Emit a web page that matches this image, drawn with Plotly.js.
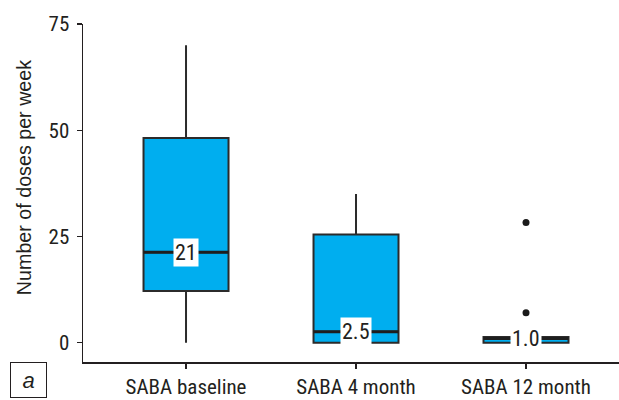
<!DOCTYPE html>
<html>
<head>
<meta charset="utf-8">
<script src="https://cdn.plot.ly/plotly-3.0.1.min.js"></script>
<style>html,body{margin:0;padding:0;background:#fff;}#chart{width:619px;height:400px;}</style>
</head>
<body>
<div id="chart"></div>
<script>
// Data
const categories = ['SABA baseline', 'SABA 4 month', 'SABA 12 month'];
const lowerFence = [0, 0, 0];
const q1Values = [12.2, 0, 0];
const medianValues = [21.3, 2.6, 1.0];
const q3Values = [48.2, 25.5, 1.4];
const upperFence = [70, 35, 1.4];
const medianLabels = ['21', '2.5', '1.0'];
const outlierCategory = ['SABA 12 month', 'SABA 12 month'];
const outlierValues = [28.3, 7.1];
const yTicks = [0, 25, 50, 75];

const tickFont = {family: "'Roboto Condensed', Roboto, sans-serif", size: 21, color: '#231f20'};

const boxTrace = {
  type: 'box',
  x: categories,
  q1: q1Values,
  median: medianValues,
  q3: q3Values,
  lowerfence: lowerFence,
  upperfence: upperFence,
  fillcolor: '#00aeef',
  line: {color: '#2b2b2b', width: 2},
  whiskerwidth: 0,
  width: 0.5,
  boxpoints: false,
  hoverinfo: 'skip',
  showlegend: false
};

// thicker median bar: a zero-height box drawn at each median
const medianTrace = {
  type: 'box',
  x: categories,
  q1: medianValues,
  median: medianValues,
  q3: medianValues,
  lowerfence: medianValues,
  upperfence: medianValues,
  fillcolor: 'rgba(0,0,0,0)',
  line: {color: '#1e1e1e', width: 3},
  whiskerwidth: 0,
  width: 0.5,
  boxpoints: false,
  hoverinfo: 'skip',
  showlegend: false
};

const outlierTrace = {
  type: 'scatter',
  mode: 'markers',
  x: outlierCategory,
  y: outlierValues,
  marker: {color: '#1a1a1a', size: 7},
  hoverinfo: 'skip',
  showlegend: false
};

const annotations = categories.map((c, i) => ({
  x: c, y: medianValues[i], xref: 'x', yref: 'y',
  text: medianLabels[i], showarrow: false,
  bgcolor: '#ffffff', borderpad: 1,
  font: {family: tickFont.family, size: 22, color: '#231f20'}
}));
annotations.push({
  xref: 'paper', yref: 'paper', x: -0.110, y: 0.544,
  xanchor: 'center', yanchor: 'middle', textangle: -90,
  text: 'Number of doses per week', showarrow: false,
  font: {family: "'Liberation Sans', Arial, sans-serif", size: 19.7, color: '#231f20'}
});
annotations.push({
  xref: 'paper', yref: 'paper', x: -0.1017, y: -0.0533,
  xanchor: 'center', yanchor: 'middle',
  text: '<i>a</i>', showarrow: false,
  width: 35, height: 34, borderpad: 0,
  bordercolor: '#231f20', borderwidth: 1,
  font: {family: "'Liberation Sans', Arial, sans-serif", size: 22, color: '#231f20'}
});

const layout = {
  width: 619, height: 400,
  margin: {l: 83, r: 0, t: 24, b: 38, pad: 0},
  paper_bgcolor: '#ffffff', plot_bgcolor: '#ffffff',
  showlegend: false,
  boxmode: 'overlay',
  xaxis: {
    type: 'category',
    range: [-0.606, 2.547],
    showline: true, linecolor: '#231f20', linewidth: 1.5,
    ticks: 'outside', ticklen: 5, tickwidth: 1.2, tickcolor: '#231f20',
    showgrid: false, zeroline: false,
    tickfont: tickFont
  },
  yaxis: {
    range: [-4.5, 75],
    tickvals: yTicks,
    showline: true, linecolor: '#231f20', linewidth: 1.5,
    ticks: 'outside', ticklen: 5, tickwidth: 1.2, tickcolor: '#231f20',
    showgrid: false, zeroline: false,
    ticklabelstandoff: 3,
    tickfont: tickFont
  },
  annotations: annotations
};

Plotly.newPlot('chart', [boxTrace, medianTrace, outlierTrace], layout, {displayModeBar: false, staticPlot: true});
</script>
</body>
</html>
